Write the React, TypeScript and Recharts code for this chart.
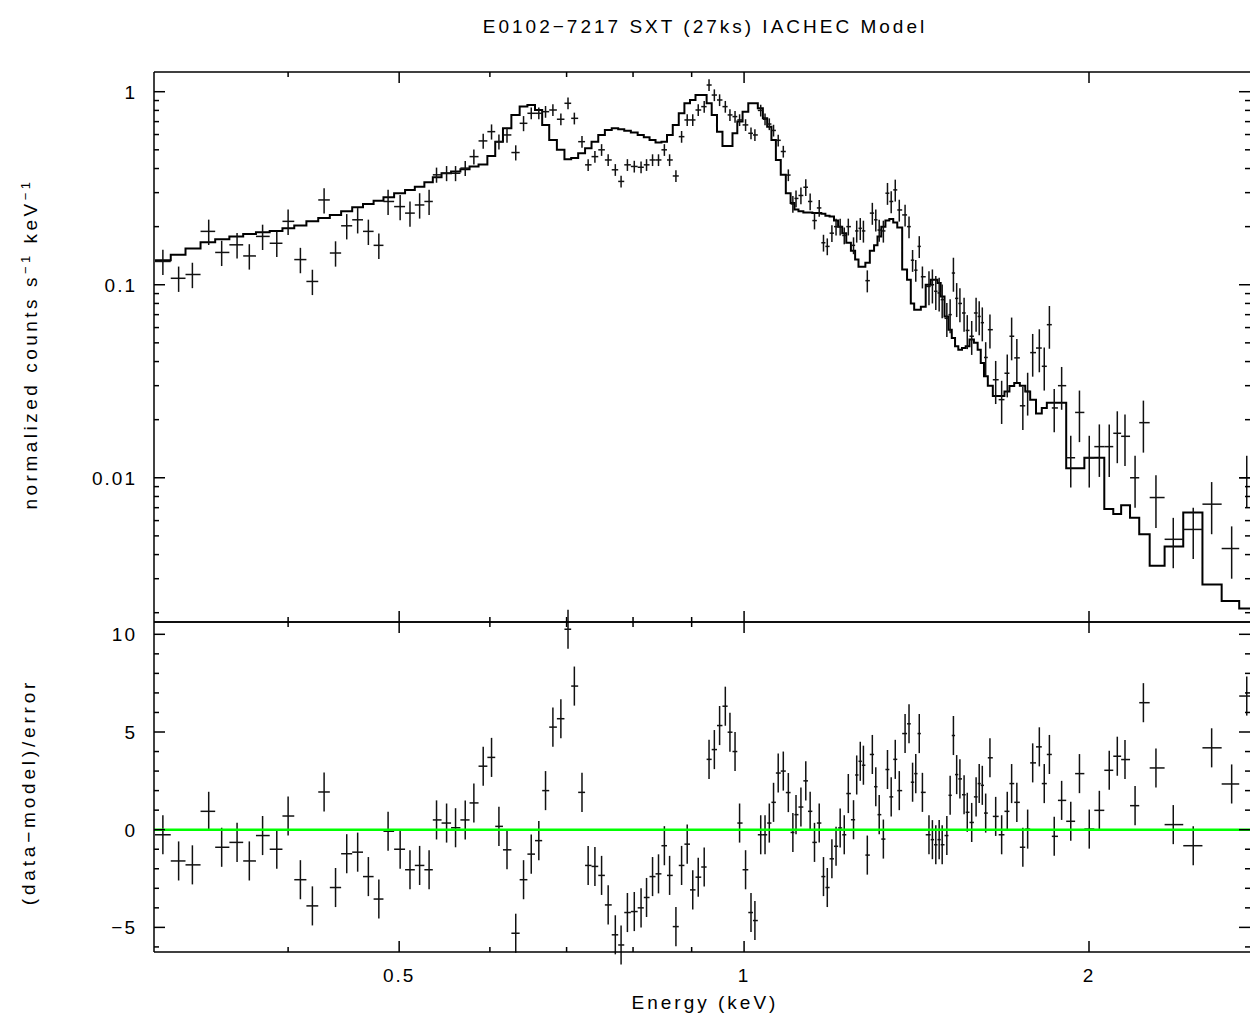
import React from 'react';
import { ComposedChart, Line, Scatter, ErrorBar, XAxis, YAxis, ReferenceLine } from 'recharts';

// bin centres (keV)
const energy = [
  0.311, 0.321, 0.330, 0.341, 0.350, 0.361, 0.370, 0.380, 0.391, 0.400,
  0.410, 0.420, 0.430, 0.440, 0.450, 0.460, 0.470, 0.480, 0.489, 0.501,
  0.511, 0.521, 0.531, 0.539, 0.550, 0.560, 0.571, 0.581, 0.592, 0.602,
  0.611, 0.621, 0.632, 0.642, 0.652, 0.662, 0.671, 0.681, 0.692, 0.702,
  0.711, 0.722, 0.731, 0.741, 0.751, 0.761, 0.772, 0.781, 0.791, 0.802,
  0.813, 0.822, 0.832, 0.842, 0.852, 0.861, 0.872, 0.882, 0.892, 0.902,
  0.912, 0.923, 0.932, 0.942, 0.952, 0.963, 0.972, 0.982, 0.991, 1.003,
  1.014, 1.022, 1.034, 1.043, 1.052, 1.061, 1.071, 1.082, 1.093, 1.103,
  1.110, 1.121, 1.132, 1.142, 1.152, 1.163, 1.173, 1.182, 1.193, 1.203,
  1.213, 1.223, 1.233, 1.246, 1.254, 1.263, 1.271, 1.281, 1.294, 1.303,
  1.312, 1.323, 1.334, 1.344, 1.355, 1.366, 1.382, 1.393, 1.403, 1.412,
  1.422, 1.431, 1.450, 1.460, 1.470, 1.480, 1.489, 1.503, 1.513, 1.523,
  1.533, 1.543, 1.556, 1.566, 1.580, 1.594, 1.604, 1.614, 1.625, 1.639,
  1.658, 1.678, 1.697, 1.712, 1.730, 1.751, 1.768, 1.786, 1.810, 1.828,
  1.847, 1.865, 1.893, 1.928, 1.962, 2.001, 2.042, 2.083, 2.117, 2.150,
  2.194, 2.231, 2.288, 2.369, 2.466, 2.559, 2.664, 2.746,
];

// normalized counts s^-1 keV^-1
const counts = [
  0.132, 0.108, 0.113, 0.189, 0.147, 0.161, 0.141, 0.178, 0.164, 0.213,
  0.135, 0.104, 0.275, 0.146, 0.202, 0.217, 0.189, 0.160, 0.270, 0.254,
  0.235, 0.259, 0.270, 0.371, 0.378, 0.378, 0.402, 0.461, 0.556, 0.621,
  0.551, 0.597, 0.484, 0.686, 0.773, 0.773, 0.788, 0.804, 0.720, 0.871,
  0.728, 0.551, 0.418, 0.461, 0.500, 0.443, 0.394, 0.343, 0.418, 0.410,
  0.406, 0.418, 0.443, 0.443, 0.500, 0.443, 0.366, 0.585, 0.714, 0.714,
  0.804, 0.837, 1.083, 0.961, 0.906, 0.837, 0.758, 0.743, 0.714, 0.673,
  0.609, 0.597, 0.800, 0.720, 0.680, 0.630, 0.560, 0.490, 0.370, 0.262,
  0.280, 0.290, 0.320, 0.270, 0.215, 0.250, 0.165, 0.158, 0.185, 0.200,
  0.200, 0.180, 0.200, 0.160, 0.190, 0.196, 0.190, 0.105, 0.235, 0.217,
  0.192, 0.190, 0.298, 0.270, 0.310, 0.244, 0.230, 0.200, 0.134, 0.119,
  0.158, 0.110, 0.098, 0.100, 0.0925, 0.0907, 0.0837, 0.067, 0.070, 0.115,
  0.085, 0.080, 0.0714, 0.058, 0.0541, 0.0714, 0.0685, 0.0636, 0.042, 0.0585,
  0.0322, 0.0254, 0.0348, 0.0541, 0.0418, 0.0236, 0.028, 0.0445, 0.047, 0.0378,
  0.0621, 0.023, 0.030, 0.0127, 0.0218, 0.0127, 0.0145, 0.0145, 0.0170, 0.0164,
  0.0100, 0.0193, 0.0079, 0.0048, 0.0054, 0.0073, 0.0043, 0.0100,
];

const countsErr = [
  0.0198, 0.0162, 0.017, 0.0284, 0.022, 0.0242, 0.0212, 0.0267, 0.0246, 0.032,
  0.0203, 0.0156, 0.0413, 0.0219, 0.0303, 0.0326, 0.0284, 0.024, 0.0405, 0.0381,
  0.0353, 0.0389, 0.0405, 0.0334, 0.034, 0.034, 0.0362, 0.0415, 0.05, 0.0559,
  0.0496, 0.0537, 0.0436, 0.0617, 0.0541, 0.0541, 0.0552, 0.0563, 0.0504, 0.061,
  0.051, 0.0386, 0.0293, 0.0323, 0.035, 0.031, 0.0276, 0.024, 0.0293, 0.0287,
  0.0284, 0.0293, 0.031, 0.031, 0.035, 0.031, 0.0256, 0.041, 0.05, 0.05,
  0.0563, 0.0586, 0.0758, 0.0673, 0.0634, 0.0586, 0.0531, 0.052, 0.05, 0.0471,
  0.0426, 0.0418, 0.056, 0.0504, 0.0476, 0.0441, 0.0392, 0.0343, 0.0259, 0.0262,
  0.028, 0.029, 0.032, 0.027, 0.0215, 0.025, 0.0165, 0.0158, 0.0185, 0.02,
  0.02, 0.018, 0.02, 0.016, 0.0247, 0.0255, 0.0247, 0.0137, 0.0306, 0.0282,
  0.025, 0.0247, 0.0387, 0.0351, 0.0403, 0.0317, 0.0299, 0.026, 0.0174, 0.0155,
  0.0205, 0.0143, 0.0196, 0.02, 0.0185, 0.0181, 0.0167, 0.0134, 0.014, 0.023,
  0.017, 0.016, 0.0143, 0.0116, 0.0108, 0.0143, 0.0137, 0.0127, 0.0084, 0.0117,
  0.0081, 0.0064, 0.0087, 0.0135, 0.0105, 0.0059, 0.007, 0.0111, 0.0118, 0.0095,
  0.0155, 0.0058, 0.0075, 0.0038, 0.0065, 0.0038, 0.0044, 0.0044, 0.0051, 0.0049,
  0.003, 0.0058, 0.0024, 0.0014, 0.0016, 0.0022, 0.0013, 0.003,
];

// folded model, one value per bin
const model = [
  0.134, 0.143, 0.154, 0.166, 0.172, 0.178, 0.183, 0.187, 0.190, 0.196,
  0.203, 0.213, 0.222, 0.230, 0.240, 0.252, 0.262, 0.272, 0.284, 0.298,
  0.310, 0.322, 0.340, 0.360, 0.378, 0.386, 0.397, 0.410, 0.420, 0.465,
  0.550, 0.646, 0.758, 0.837, 0.853, 0.804, 0.673, 0.562, 0.500, 0.447,
  0.453, 0.480, 0.510, 0.551, 0.597, 0.634, 0.646, 0.639, 0.628, 0.614,
  0.597, 0.581, 0.562, 0.545, 0.551, 0.597, 0.673, 0.773, 0.871, 0.906,
  0.961, 0.961, 0.871, 0.758, 0.621, 0.524, 0.524, 0.609, 0.700, 0.788,
  0.871, 0.871, 0.820, 0.728, 0.659, 0.562, 0.443, 0.371, 0.298, 0.265,
  0.245, 0.240, 0.237, 0.237, 0.235, 0.235, 0.233, 0.228, 0.226, 0.215,
  0.200, 0.185, 0.165, 0.150, 0.135, 0.124, 0.124, 0.130, 0.150, 0.160,
  0.178, 0.200, 0.215, 0.219, 0.210, 0.198, 0.120, 0.106, 0.080, 0.0741,
  0.0741, 0.077, 0.100, 0.106, 0.106, 0.102, 0.087, 0.0685, 0.0585, 0.053,
  0.048, 0.046, 0.047, 0.048, 0.052, 0.050, 0.046, 0.0393, 0.0336, 0.030,
  0.0265, 0.0265, 0.028, 0.0299, 0.031, 0.030, 0.028, 0.0254, 0.0215, 0.023,
  0.0245, 0.0245, 0.0245, 0.0112, 0.0112, 0.0127, 0.0127, 0.0069, 0.0065, 0.0072,
  0.0062, 0.0051, 0.0035, 0.0044, 0.0066, 0.0028, 0.0023, 0.0021,
];

// (data-model)/error
const resid = [
  -0.26, -1.6, -1.8, 0.94, -0.9, -0.65, -1.6, -0.3, -1.0, 0.7,
  -2.56, -3.9, 1.93, -2.96, -1.23, -1.15, -2.4, -3.55, -0.08, -1.0,
  -2.05, -1.83, -2.05, 0.5, 0.34, 0.1, 0.5, 1.37, 3.25, 3.7,
  0.17, -1.03, -5.3, -2.56, -1.25, -0.56, 2.0, 5.25, 5.68, 10.26,
  7.35, 1.91, -1.83, -1.88, -2.34, -3.85, -5.38, -5.9, -4.24, -4.19,
  -4.0, -3.47, -2.4, -2.26, -0.82, -2.34, -4.96, -1.83, -0.74, -3.08,
  -2.43, -1.91, 3.6, 4.1, 5.33, 6.32, 4.99, 4.0, 0.34, -2.05,
  -4.24, -4.65, -0.26, -0.26, 0.34, 1.4, 2.9, 3.0, 1.9, -0.14,
  0.77, 1.16, 2.5, 0.94, -0.65, 0.34, -2.4, -2.96, -1.49, -0.85,
  0.09, -0.26, 1.85, 0.51, 2.8, 3.5, 3.3, -1.3, 3.85, 2.2,
  0.77, -0.48, 3.08, 1.68, 3.6, 2.0, 4.92, 5.42, 2.43, 2.87,
  4.92, 1.91, -0.26, -0.51, -0.77, -0.51, -0.77, -0.3, 1.76, 4.82,
  2.82, 2.6, 1.79, 0.89, 0.37, 1.68, 2.36, 2.27, 0.85, 3.68,
  0.68, -0.26, 0.94, 2.36, 1.4, -0.9, 0.03, 3.42, 4.24, 2.36,
  3.85, -0.34, 1.5, 0.43, 2.87, 0.03, 0.99, 3.04, 3.76, 3.59,
  1.23, 6.5, 3.16, 0.26, -0.82, 4.19, 2.34, 6.84,
];

const xTicks = [0.4, 0.5, 0.6, 0.7, 0.8, 0.9, 1, 2];
const xMajor = [0.5, 1, 2];
const countTicks = [
  0.002, 0.003, 0.004, 0.005, 0.006, 0.007, 0.008, 0.009, 0.01,
  0.02, 0.03, 0.04, 0.05, 0.06, 0.07, 0.08, 0.09, 0.1,
  0.2, 0.3, 0.4, 0.5, 0.6, 0.7, 0.8, 0.9, 1,
];
const countMajor = [0.01, 0.1, 1];
const residTicks = [-6, -5, -4, -3, -2, -1, 0, 1, 2, 3, 4, 5, 6, 7, 8, 9, 10];
const residMajor = [-5, 0, 5, 10];

const X_DOMAIN = [0.3055, 2.764];
const COUNT_DOMAIN = [0.00179, 1.265];
const RESID_DOMAIN = [-6.26, 10.63];

// bin edges halfway (in log) between neighbouring centres
const edges = energy.map((e, i) => {
  const lo = i > 0 ? Math.sqrt(energy[i - 1] * e) : (e * e) / Math.sqrt(e * energy[1]);
  const hi = i < energy.length - 1 ? Math.sqrt(e * energy[i + 1]) : (e * e) / Math.sqrt(energy[i - 1] * e);
  return { lo, hi };
});

const spectrum = energy.map((e, i) => ({
  e,
  d: counts[i],
  dErr: countsErr[i],
  xErr: [e - edges[i].lo, edges[i].hi - e],
}));

const residuals = energy.map((e, i) => ({
  e,
  r: resid[i],
  rErr: 1,
  xErr: [e - edges[i].lo, edges[i].hi - e],
}));

const modelSteps = [
  ...energy.map((_, i) => ({ e: edges[i].lo, m: model[i] })),
  { e: edges[edges.length - 1].hi, m: model[model.length - 1] },
];

const FONT = '"Liberation Sans", Arial, Helvetica, sans-serif';
const textStyle = { fontFamily: FONT, fontSize: 19, fill: '#000', letterSpacing: 2 };

type Side = 'bottom' | 'top' | 'left' | 'right';

// inward PGPLOT-style ticks, label only on major ticks
const makeTick = (side: Side, majors: number[], label?: (v: number) => string) => (props: any) => {
  const { x, y, payload } = props;
  const v = payload.value;
  const major = majors.includes(v);
  const len = major ? 11 : 5;
  let x2 = x;
  let y2 = y;
  if (side === 'bottom') y2 = y - len;
  if (side === 'top') y2 = y + len;
  if (side === 'left') x2 = x + len;
  if (side === 'right') x2 = x - len;
  return (
    <g>
      <line x1={x} y1={y} x2={x2} y2={y2} stroke="#000" strokeWidth={1.5} />
      {label && major && side === 'bottom' && (
        <text x={x} y={y + 30} textAnchor="middle" {...textStyle}>{label(v)}</text>
      )}
      {label && major && side === 'left' && (
        <text x={x - 17} y={y} dy="0.36em" textAnchor="end" {...textStyle}>{label(v)}</text>
      )}
    </g>
  );
};

const fmtResid = (v: number) => (v < 0 ? `\u2212${Math.abs(v)}` : String(v));
const axisLine = { stroke: '#000', strokeWidth: 1.5 };
const noShape = () => <g />;
const labelStyle = { position: 'absolute' as const, whiteSpace: 'nowrap' as const, fontFamily: FONT, fontSize: 19, letterSpacing: 3, color: '#000' };

const App = () => {
  return (
    <div style={{ position: 'absolute', left: 0, top: 0, width: 1250, height: 1019, background: '#fff', overflow: 'hidden' }}>
      {/* Spectrum panel: plot area x 154-1250, y 72-622 */}
      <div style={{ position: 'absolute', left: 0, top: 0 }}>
        <ComposedChart width={1250} height={625} margin={{ top: 71, right: -1, bottom: 2, left: 153 }}>
          <XAxis xAxisId="b" dataKey="e" type="number" scale="log" domain={X_DOMAIN} allowDataOverflow
            ticks={xTicks} interval={0} height={1} tickSize={0} tickMargin={0} tickLine={false}
            axisLine={axisLine} tick={makeTick('bottom', xMajor)} />
          <XAxis xAxisId="t" orientation="top" dataKey="e" type="number" scale="log" domain={X_DOMAIN} allowDataOverflow
            ticks={xTicks} interval={0} height={1} tickSize={0} tickMargin={0} tickLine={false}
            axisLine={axisLine} tick={makeTick('top', xMajor)} />
          <YAxis yAxisId="l" type="number" scale="log" domain={COUNT_DOMAIN} allowDataOverflow
            ticks={countTicks} interval={0} width={1} tickSize={0} tickMargin={0} tickLine={false}
            axisLine={axisLine} tick={makeTick('left', countMajor, (v) => String(v))} />
          <YAxis yAxisId="r" orientation="right" type="number" scale="log" domain={COUNT_DOMAIN} allowDataOverflow
            ticks={countTicks} interval={0} width={1} tickSize={0} tickMargin={0} tickLine={false}
            axisLine={false} tick={makeTick('right', countMajor)} />
          <Line xAxisId="b" yAxisId="l" data={modelSteps} dataKey="m" type="stepAfter" dot={false}
            stroke="#000" strokeWidth={2} isAnimationActive={false} />
          <Scatter xAxisId="b" yAxisId="l" data={spectrum} dataKey="d" shape={noShape} isAnimationActive={false}>
            <ErrorBar dataKey="dErr" direction="y" width={0} stroke="#111" strokeWidth={1.5} isAnimationActive={false} />
            <ErrorBar dataKey="xErr" direction="x" width={0} stroke="#111" strokeWidth={1.5} isAnimationActive={false} />
          </Scatter>
        </ComposedChart>
      </div>

      {/* Residual panel: plot area x 154-1250, y 622-952 */}
      <div style={{ position: 'absolute', left: 0, top: 0 }}>
        <ComposedChart width={1250} height={1019} margin={{ top: 621, right: -1, bottom: 66, left: 153 }}>
          <XAxis xAxisId="b" dataKey="e" type="number" scale="log" domain={X_DOMAIN} allowDataOverflow
            ticks={xTicks} interval={0} height={1} tickSize={0} tickMargin={0} tickLine={false}
            axisLine={axisLine} tick={makeTick('bottom', xMajor, (v) => String(v))} />
          <XAxis xAxisId="t" orientation="top" dataKey="e" type="number" scale="log" domain={X_DOMAIN} allowDataOverflow
            ticks={xTicks} interval={0} height={1} tickSize={0} tickMargin={0} tickLine={false}
            axisLine={axisLine} tick={makeTick('top', xMajor)} />
          <YAxis yAxisId="l" type="number" domain={RESID_DOMAIN} allowDataOverflow
            ticks={residTicks} interval={0} width={1} tickSize={0} tickMargin={0} tickLine={false}
            axisLine={axisLine} tick={makeTick('left', residMajor, fmtResid)} />
          <YAxis yAxisId="r" orientation="right" type="number" domain={RESID_DOMAIN} allowDataOverflow
            ticks={residTicks} interval={0} width={1} tickSize={0} tickMargin={0} tickLine={false}
            axisLine={false} tick={makeTick('right', residMajor)} />
          <Scatter xAxisId="b" yAxisId="l" data={residuals} dataKey="r" shape={noShape} isAnimationActive={false}>
            <ErrorBar dataKey="rErr" direction="y" width={0} stroke="#111" strokeWidth={1.5} isAnimationActive={false} />
            <ErrorBar dataKey="xErr" direction="x" width={0} stroke="#111" strokeWidth={1.5} isAnimationActive={false} />
          </Scatter>
          <ReferenceLine xAxisId="b" yAxisId="l" y={0} stroke="#00ff00" strokeWidth={2.5} />
        </ComposedChart>
      </div>

      {/* Title and axis labels */}
      <div style={{ ...labelStyle, left: 705, top: 27, transform: 'translate(-50%, -50%)' }}>
        E0102{'\u2212'}7217 SXT (27ks) IACHEC Model
      </div>
      <div style={{ ...labelStyle, left: 705, top: 1003, transform: 'translate(-50%, -50%)' }}>
        Energy (keV)
      </div>
      <div style={{ ...labelStyle, letterSpacing: 3.5, left: 30, top: 344, transform: 'translate(-50%, -50%) rotate(-90deg)' }}>
        normalized counts s<sup style={{ fontSize: 13 }}>{'\u2212'}1</sup> keV<sup style={{ fontSize: 13 }}>{'\u2212'}1</sup>
      </div>
      <div style={{ ...labelStyle, letterSpacing: 3.8, left: 29, top: 792, transform: 'translate(-50%, -50%) rotate(-90deg)' }}>
        (data{'\u2212'}model)/error
      </div>
    </div>
  );
};

export default App;
